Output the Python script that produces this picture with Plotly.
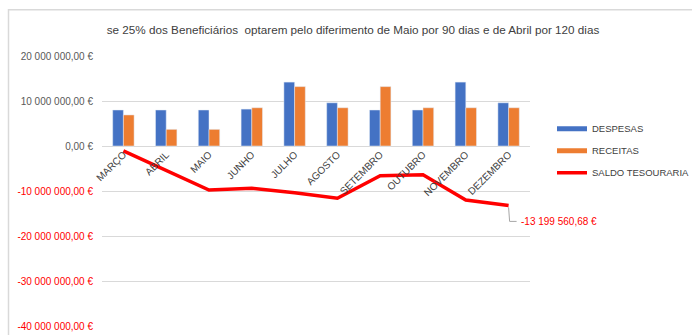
import plotly.graph_objects as go

# Monthly treasury figures (EUR)
meses = ["MARÇO", "ABRIL", "MAIO", "JUNHO", "JULHO", "AGOSTO",
         "SETEMBRO", "OUTUBRO", "NOVEMBRO", "DEZEMBRO"]
despesas = [8.0e6, 8.0e6, 8.0e6, 8.2e6, 14.2e6, 9.6e6, 8.0e6, 8.0e6, 14.2e6, 9.6e6]
receitas = [6.9e6, 3.7e6, 3.7e6, 8.5e6, 13.2e6, 8.5e6, 13.2e6, 8.5e6, 8.5e6, 8.5e6]
saldo = [-1.1e6, -5.4e6, -9.8e6, -9.4e6, -10.4e6, -11.6e6, -6.6e6, -6.4e6, -12.0e6, -13199560.68]
y_ticks = [20e6, 10e6, 0, -10e6, -20e6, -30e6, -40e6]

titulo = ("se 25% dos Beneficiários&nbsp; optarem pelo diferimento de Maio "
          "por 90 dias e de Abril por 120 dias")

AZUL = "#4472C4"
LARANJA = "#ED7D31"
VERMELHO = "#FF0000"
GRELHA = "#D9D9D9"
TEXTO = "#404040"
FONTE = "Liberation Sans, Arial, sans-serif"


def euro(v):
    """Portuguese currency format: '1 234 567,89 €'."""
    neg = v < 0
    inteiro, dec = f"{abs(v):.2f}".split(".")
    grupos = []
    while len(inteiro) > 3:
        grupos.insert(0, inteiro[-3:])
        inteiro = inteiro[:-3]
    grupos.insert(0, inteiro)
    return ("-" if neg else "") + " ".join(grupos) + "," + dec + " €"


def tick_label(v):
    txt = euro(v)
    if v < 0:
        return f"<span style='color:{VERMELHO}'>{txt}</span>"
    return txt


fig = go.Figure()

fig.add_trace(go.Bar(x=meses, y=despesas, name="DESPESAS", marker_color=AZUL,
                     showlegend=False, hoverinfo="skip"))
fig.add_trace(go.Bar(x=meses, y=receitas, name="RECEITAS", marker_color=LARANJA,
                     showlegend=False, hoverinfo="skip"))
fig.add_trace(go.Scatter(x=meses, y=saldo, mode="lines", name="SALDO TESOURARIA",
                         line=dict(color=VERMELHO, width=3.5), showlegend=False,
                         hoverinfo="skip"))

# Legend entries drawn as thick strokes
for nome, cor, larg, grp in [("DESPESAS", AZUL, 5, "a"),
                             ("RECEITAS", LARANJA, 5, "b"),
                             ("SALDO TESOURARIA", VERMELHO, 3.5, "c")]:
    fig.add_trace(go.Scatter(x=[None], y=[None], mode="lines", name=nome,
                             legendgroup=grp, line=dict(color=cor, width=larg)))

# Data label for the final balance, with an elbow leader line
ultimo_x, ultimo_y = meses[-1], saldo[-1]
fig.add_shape(type="path", xref="x", yref="y",
              xsizemode="pixel", ysizemode="pixel",
              xanchor=ultimo_x, yanchor=ultimo_y,
              path="M 0,-2 L 1,-16 L 8,-16",
              line=dict(color="#A6A6A6", width=1))
fig.add_annotation(x=ultimo_x, y=ultimo_y, text=euro(ultimo_y), showarrow=False,
                   xanchor="left", yanchor="middle", xshift=10, yshift=-16,
                   font=dict(family=FONTE, size=10, color=VERMELHO))

# Outer chart frame
L, R, T, B = 102, 530, 55.7, 326
def px_x(p):
    return (p - L) / (R - L)
def px_y(p):
    return (B - p) / (B - T)
fig.add_shape(type="path", xref="paper", yref="paper",
              path=f"M {px_x(8.5)},{px_y(345)} L {px_x(8.5)},{px_y(9.5)} L {px_x(700)},{px_y(9.5)}",
              line=dict(color=GRELHA, width=1.5))

fig.update_layout(
    width=692, height=335,
    margin=dict(l=L, r=692 - R, t=T, b=335 - B, autoexpand=False),
    paper_bgcolor="white", plot_bgcolor="white",
    barmode="group", bargap=0.5, bargroupgap=0,
    font=dict(family=FONTE, size=10, color=TEXTO),
    title=dict(text=titulo, x=353 / 692, xanchor="center", y=1 - 30 / 335,
               yanchor="middle", font=dict(family=FONTE, size=11.7, color=TEXTO)),
    legend=dict(x=px_x(552), xanchor="left", y=px_y(114), yanchor="top",
                font=dict(family=FONTE, size=9.5, color=TEXTO),
                traceorder="grouped", tracegroupgap=3,
                bgcolor="rgba(0,0,0,0)", itemwidth=30),
    showlegend=True,
)

fig.update_yaxes(range=[-40e6, 20e6], tickvals=y_ticks,
                 ticktext=[tick_label(v) for v in y_ticks],
                 showgrid=True, gridcolor=GRELHA, gridwidth=1,
                 zeroline=True, zerolinecolor=GRELHA, zerolinewidth=1,
                 showline=False, ticks="", ticklen=0, ticklabelstandoff=8,
                 tickfont=dict(family=FONTE, size=10, color="#595959"),
                 automargin=False)
fig.update_xaxes(type="category", range=[-0.5, len(meses) - 0.5],
                 anchor="free", position=2 / 3,
                 tickangle=-45, showgrid=False, showline=False, ticks="",
                 tickfont=dict(family=FONTE, size=10, color=TEXTO),
                 automargin=False)

fig.write_html("out.html")
